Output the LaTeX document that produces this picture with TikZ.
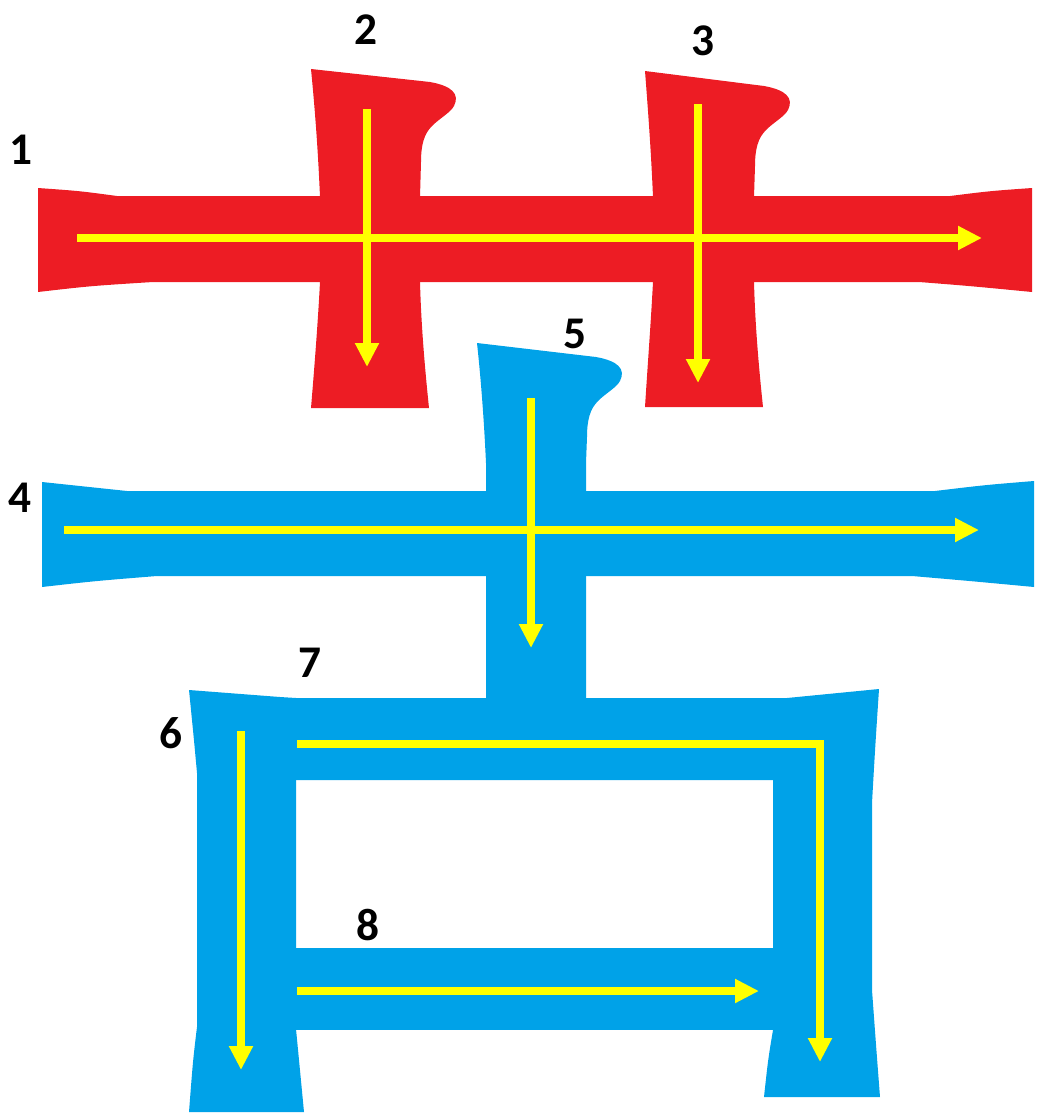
\documentclass[tikz,border=0pt]{standalone}
\usepackage{fontspec}
\setmainfont{Carlito}
\usetikzlibrary{arrows.meta}
\definecolor{strokered}{RGB}{237,28,36}
\definecolor{strokeblue}{RGB}{0,162,232}
\definecolor{orderyellow}{RGB}{255,255,0}

\begin{document}
\begin{tikzpicture}[x=0.75pt,y=-0.75pt,
redpart/.style={fill=strokered},
bluepart/.style={fill=strokeblue},
order/.style={draw=orderyellow,line width=6pt,line join=miter,-{Triangle[width=17pt,length=18pt]}},
num/.style={font=\bfseries\fontsize{34}{34}\selectfont,inner sep=0pt}
]
\useasboundingbox (0,0) rectangle (1038,1113);
% red strokes
\fill[redpart] (38,188) .. controls (80,191) .. (117,196) -- (950,196) .. controls (990,191) .. (1032,188) -- (1032,292) .. controls (970,286) .. (919,282) -- (153,282) .. controls (90,286) .. (38,292) -- cycle;
\fill[redpart] (311,69) -- (430,82) .. controls (452,86) and (460,94) .. (454,106) .. controls (450,113) and (440,118) .. (432,126) .. controls (424,134) and (421,145) .. (421,162) -- (420,197) -- (420,282) .. controls (421,320) and (424,360) .. (429,408) -- (311,408) .. controls (315,360) and (318,320) .. (320,282) -- (320,197) .. controls (318,150) and (315,110) .. cycle;
\fill[redpart] (645,71) -- (764,86) .. controls (786,90) and (794,98) .. (788,110) .. controls (784,117) and (774,122) .. (766,130) .. controls (758,138) and (755,149) .. (755,166) -- (754,197) -- (754,282) .. controls (755,320) and (758,360) .. (763,407) -- (645,407) .. controls (648,360) and (651,320) .. (653,282) -- (653,197) .. controls (651,150) and (648,110) .. cycle;
% blue strokes
\fill[bluepart] (42,482) .. controls (85,486) .. (127,491) -- (935,491) .. controls (985,485) .. (1034,481) -- (1034,587) .. controls (970,581) .. (912,576) -- (157,576) .. controls (95,581) .. (42,587) -- cycle;
\fill[bluepart] (477,343) -- (596,357) .. controls (618,361) and (626,369) .. (620,381) .. controls (616,388) and (606,393) .. (598,401) .. controls (590,409) and (587,420) .. (587,437) -- (586,463) -- (586,698) -- (486,698) -- (486,463) .. controls (484,420) and (481,380) .. cycle;
\fill[bluepart] (189,690) -- (280,697) -- (296,698) -- (296,1029) .. controls (299,1060) .. (304,1112) -- (189,1112) .. controls (193,1060) .. (197,1027) -- (197,773) .. controls (194,740) .. cycle;
\fill[bluepart] (280,698) -- (787,698) -- (879,689) .. controls (875,750) .. (872,803) -- (872,990) .. controls (876,1045) .. (880,1097) -- (764,1097) .. controls (768,1060) .. (773,1030) -- (773,780) -- (280,780) -- cycle;
\fill[bluepart] (296,948) rectangle (773,1030);
% stroke order
\coordinate (a1) at (77,238);   \coordinate (b1) at (982,238);
\coordinate (a2) at (367,109);  \coordinate (b2) at (367,367);
\coordinate (a3) at (698,104);  \coordinate (b3) at (698,383);
\coordinate (a4) at (64,530);   \coordinate (b4) at (979,530);
\coordinate (a5) at (531,398);  \coordinate (b5) at (531,648);
\coordinate (a6) at (241,731);  \coordinate (b6) at (241,1070);
\coordinate (a7) at (297,744);  \coordinate (c7) at (820,744);  \coordinate (b7) at (820,1062);
\coordinate (a8) at (297,991);  \coordinate (b8) at (759,991);
\draw[order] (a1) -- (b1);
\draw[order] (a2) -- (b2);
\draw[order] (a3) -- (b3);
\draw[order] (a4) -- (b4);
\draw[order] (a5) -- (b5);
\draw[order] (a6) -- (b6);
\draw[order] (a7) -- (c7) -- (b7);
\draw[order] (a8) -- (b8);
\node[num] (n1) at (21,150) {1};
\node[num] (n2) at (366,30) {2};
\node[num] (n3) at (703,41) {3};
\node[num] (n4) at (20,498) {4};
\node[num] (n5) at (575,334) {5};
\node[num] (n6) at (171,733) {6};
\node[num] (n7) at (310,663) {7};
\node[num] (n8) at (368,925) {8};
\end{tikzpicture}
\end{document}
